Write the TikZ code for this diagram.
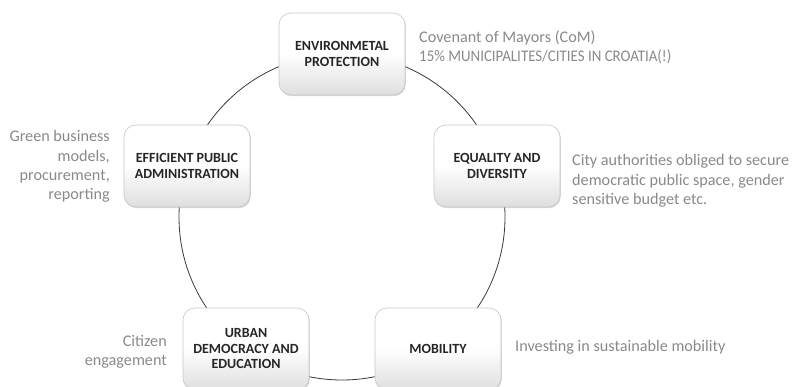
\documentclass[tikz,border=0pt]{standalone}
\usepackage{fontspec}
\usepackage{graphicx}
\setmainfont{Carlito}
\usetikzlibrary{shadows}
\definecolor{notegray}{HTML}{8A8A8A}
\definecolor{labeldark}{HTML}{262626}
\definecolor{ringgray}{HTML}{3A3A3A}
\tikzset{
  topic/.style={rounded corners=12bp, minimum width=126bp, minimum height=82bp,
    top color=white, bottom color=black!13, middle color=white, shading angle=0,
    draw=black!22, line width=0.6bp, align=center, text=labeldark, inner sep=2bp,
    font=\fontsize{14bp}{15.5bp}\selectfont\bfseries,
    drop shadow={shadow xshift=0.8bp, shadow yshift=-1.2bp, opacity=0.25, fill=black!60}},
  note/.style={text=notegray, font=\fontsize{16.2bp}{19.3bp}\selectfont, inner sep=0pt}
}
\begin{document}
\begin{tikzpicture}[x=1bp,y=-1bp]
\useasboundingbox (0,0) rectangle (793,386);
\fill[white] (0,0) rectangle (793,386);
\coordinate (c) at (342,217);
\draw[ringgray, line width=0.8bp] (c) circle[radius=163bp];
\node[topic] (env) at (342,54) {ENVIRONMETAL\\PROTECTION};
\node[topic] (eff) at (187,166) {EFFICIENT PUBLIC\\ADMINISTRATION};
\node[topic] (eq) at (497,166) {EQUALITY AND\\DIVERSITY};
\node[topic] (urb) at (246,349) {URBAN\\DEMOCRACY AND\\EDUCATION};
\node[topic] (mob) at (438,349) {MOBILITY};
\node[note, anchor=west, align=left] (envn) at (419,47.5) {Covenant of Mayors (CoM)\\\scalebox{0.92}[1]{15\% MUNICIPALITES/CITIES IN CROATIA(!)}};
\node[note, anchor=east, align=right] (effn) at (110,166.5) {Green business\\models,\\procurement,\\reporting};
\node[note, anchor=west, align=left] (eqn) at (572,181) {City authorities obliged to secure\\democratic public space, gender\\sensitive budget etc.};
\node[note, anchor=east, align=right] (urbn) at (167,352) {Citizen\\engagement};
\node[note, anchor=west] (mobn) at (515,347) {Investing in sustainable mobility};
\end{tikzpicture}
\end{document}
